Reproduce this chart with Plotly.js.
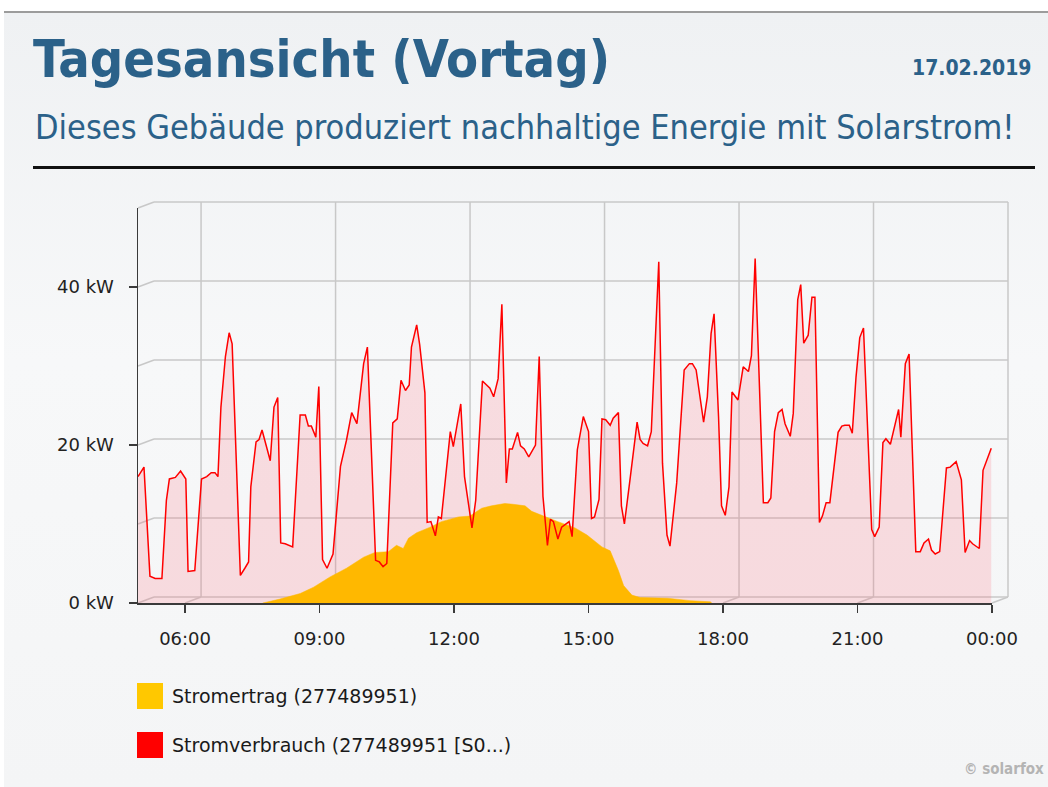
<!DOCTYPE html>
<html><head><meta charset="utf-8">
<script src="https://cdn.plot.ly/plotly-3.0.1.min.js"></script>
<style>
html,body{margin:0;padding:0;width:1048px;height:787px;overflow:hidden;background:#fff;}
#bg{position:absolute;left:4px;top:11px;right:0;bottom:0;border-top:2px solid #9c9c9c;background:linear-gradient(180deg,#eff1f3 0%,#f7f8f9 45%,#f4f5f6 100%);}
#chart{position:absolute;left:0;top:0;width:1048px;height:787px;}
</style></head><body><div id="bg"></div><div id="chart"></div>
<script>
// ---- data ----
const verbrauchZeit = ["04:57","05:05","05:13","05:20","05:29","05:35","05:39","05:47","05:54","06:01","06:04","06:13",
"06:22","06:29","06:35","06:40","06:44","06:48","06:54","06:59","07:03",
"07:14","07:20","07:25","07:28","07:35","07:39","07:43","07:54","07:59","08:04",
"08:08","08:14","08:24","08:34","08:41","08:45","08:49","08:55","08:59",
"09:04","09:10","09:18","09:28","09:36","09:43","09:50","09:59","10:04",
"10:15","10:20","10:25","10:30","10:38","10:44","10:49","10:55","11:00","11:03","11:10","11:14","11:21",
"11:24","11:29","11:35","11:39","11:43","11:55","11:59",
"12:09","12:14","12:19","12:24","12:29","12:38","12:48","12:53","12:59","13:04",
"13:10","13:14","13:18","13:25","13:29","13:34","13:40","13:49","13:54","13:59",
"14:05","14:09","14:13","14:19","14:24","14:34","14:38",
"14:45","14:53","15:00","15:04","15:08","15:14","15:18","15:23","15:29","15:33","15:40",
"15:44","15:48","15:56","16:05","16:09","16:13","16:19","16:24","16:34","16:39","16:45","16:49","16:58",
"17:08","17:15","17:19","17:24","17:34","17:39","17:44","17:48",
"17:54","17:58","18:03","18:08","18:12","18:20","18:27","18:34","18:38","18:43","18:47",
"18:54","19:00","19:04","19:09","19:14","19:19","19:23","19:30","19:34",
"19:40","19:44","19:48","19:54","19:59","20:03",
"20:09","20:13","20:18","20:23","20:34","20:39","20:43","20:49","20:53","20:58","21:03","21:08",
"21:19","21:23","21:29","21:34","21:38","21:44","21:55","21:58","22:04","22:09",
"22:18","22:24","22:29","22:35","22:39","22:44","22:50","22:59","23:04","23:12","23:19",
"23:24","23:30","23:34","23:43","23:48","23:59"];
const verbrauchKW = [16.0,17.2,3.4,3.1,3.1,13.0,15.7,15.9,16.7,15.7,4.0,4.1,
15.7,16.0,16.5,16.5,16.0,24.8,31.2,34.2,32.8,
3.5,4.4,5.2,14.7,20.4,20.7,21.9,18.0,24.8,26.0,
7.6,7.5,7.1,23.8,23.8,22.4,22.4,21.0,27.4,
5.5,4.4,6.2,17.3,20.6,24.1,22.7,30.3,32.4,
5.4,5.2,4.6,5.0,22.8,23.3,28.2,26.9,27.6,32.4,35.2,32.7,26.6,
10.2,10.3,8.5,10.9,10.7,21.7,19.8,
25.2,16.0,13.0,9.5,13.0,28.1,27.2,26.1,28.4,37.8,
15.2,19.5,19.5,21.6,19.9,19.5,18.5,20.0,31.2,13.5,
7.3,10.6,10.3,8.1,9.6,10.3,8.4,
19.4,23.6,21.7,10.7,10.9,13.1,23.3,23.2,22.5,23.4,24.1,
12.3,10.0,16.0,22.9,20.7,20.2,19.9,21.7,43.2,17.7,8.6,7.2,15.2,
29.5,30.3,30.3,29.5,22.9,26.1,34.1,36.6,
23.6,12.3,11.1,14.7,26.7,25.7,29.9,29.3,31.3,43.6,32.9,
12.7,12.7,13.3,21.7,24.1,24.5,22.7,21.1,24.0,
38.4,40.3,32.9,33.9,38.7,38.7,
10.2,11.0,12.7,12.7,21.6,22.4,22.5,22.5,21.5,28.6,33.6,34.8,
9.3,8.4,9.6,20.3,20.8,20.1,24.5,21.0,30.3,31.5,
6.5,6.5,7.6,8.1,6.7,6.2,6.5,17.1,17.2,17.9,15.6,
6.4,7.9,7.5,6.9,16.8,19.6];

const ertragZeit = ["07:44","08:07","08:34","08:52","09:14","09:36","09:59","10:14","10:32","10:43","10:52","10:59","11:10","11:28","11:43","12:06","12:21","12:37","12:50","13:08","13:19","13:35","13:44","13:57","14:19","14:42","14:58","15:18","15:29","15:40","15:47","15:58","16:09","16:46","17:16","17:43","17:45"];
const ertragKW = [0,0.5,1.2,2.0,3.3,4.4,5.8,6.4,6.5,7.3,6.9,8.2,8.9,9.6,10.3,10.9,11.0,12.0,12.3,12.6,12.5,12.3,11.6,11.1,10.3,9.5,8.6,7.1,6.6,4.1,2.2,1.0,0.7,0.6,0.3,0.15,0];

const tickZeit = ["06:00","09:00","12:00","15:00","18:00","21:00","24:00"];
const tickText = ["06:00","09:00","12:00","15:00","18:00","21:00","00:00"];
const yTickVals = [0,20,40];
const yTickText = ["0 kW","20 kW","40 kW"];
const yGridVals = [0,10,20,30,40,50];
const seriesNames = ["Stromertrag (277489951)","Stromverbrauch (277489951 [S0...)"];
const rangeStart = "04:57", rangeEnd = "24:00";
const titleText = "Tagesansicht (Vortag)";
const subtitleText = "Dieses Gebäude produziert nachhaltige Energie mit Solarstrom!";
const dateText = "17.02.2019";

// ---- helpers ----
function ts(hm){ return hm==="24:00" ? "2019-02-18 00:00" : "2019-02-17 " + hm; }
function mins(hm){ const p = hm.split(":"); return (+p[0])*60 + (+p[1]); }

// geometry (pixels)
const L=138, R=1008, T=202, B=603, PW=R-L, PH=B-T;
const DX=16, DY=6;
const fw=(PW-DX)/PW, fh=(PH-DY)/PH, dx=DX/PW, dy=DY/PH;
function px(X){ return (X-L)/PW; }
function py(Y){ return (B-Y)/PH; }

const COND = "DejaVu Sans Condensed, DejaVu Sans, sans-serif";
const BLUE = "#2b6189";
const GRID = "#c8c8c8";
const YMAX = 50;

const traces = [
  {x: verbrauchZeit.map(ts), y: verbrauchKW, type:"scatter", mode:"lines", fill:"tozeroy",
   fillcolor:"rgba(255,110,125,0.2)", line:{width:0, color:"rgba(0,0,0,0)"}, name:seriesNames[1], showlegend:false, hoverinfo:"skip"},
  {x: ertragZeit.map(ts), y: ertragKW, type:"scatter", mode:"lines", fill:"tozeroy",
   fillcolor:"#ffb800", line:{width:0.5, color:"#ffb800"}, name:seriesNames[0], showlegend:false},
  {x: verbrauchZeit.map(ts), y: verbrauchKW, type:"scatter", mode:"lines",
   line:{width:1.5, color:"#ff0000"}, name:seriesNames[1], showlegend:false}
];

// back-plane grid and 3D-like connectors, derived from the tick arrays
const shapes = [];
const t0 = mins(rangeStart), t1 = mins(rangeEnd);
const gl = {color:GRID, width:1.5};
yGridVals.forEach(v => {
  const yf = v/YMAX*fh;
  shapes.push({type:"line", layer:"below", xref:"paper", yref:"paper", x0:dx, y0:yf+dy, x1:1, y1:yf+dy, line:gl});
  shapes.push({type:"line", layer:"below", xref:"paper", yref:"paper", x0:0, y0:yf, x1:dx, y1:yf+dy, line:gl});
});
tickZeit.forEach(hm => {
  const f = (mins(hm)-t0)/(t1-t0)*fw;
  shapes.push({type:"line", layer:"below", xref:"paper", yref:"paper", x0:f+dx, y0:dy, x1:f+dx, y1:1, line:gl});
  shapes.push({type:"line", layer:"below", xref:"paper", yref:"paper", x0:f, y0:0, x1:f+dx, y1:dy, line:gl});
});
// header rule
shapes.push({type:"line", xref:"paper", yref:"paper", x0:px(33), x1:px(1035), y0:py(167.5), y1:py(167.5), line:{color:"#111", width:3}});
// legend swatches
shapes.push({type:"rect", xref:"paper", yref:"paper", x0:px(137), x1:px(163), y0:py(683), y1:py(709), fillcolor:"#ffc800", line:{width:0}});
shapes.push({type:"rect", xref:"paper", yref:"paper", x0:px(137), x1:px(163), y0:py(732), y1:py(758), fillcolor:"#ff0000", line:{width:0}});

const annotations = [
  {text: subtitleText, xref:"paper", yref:"paper", x:px(33), y:py(127), xanchor:"left", yanchor:"middle", showarrow:false,
   font:{family:COND, size:34, color:BLUE}},
  {text: dateText, xref:"paper", yref:"paper", x:px(1034), y:py(68), xanchor:"right", yanchor:"middle", showarrow:false,
   font:{family:COND, size:21, color:BLUE, weight:"bold"}},
  {text: seriesNames[0], xref:"paper", yref:"paper", x:px(170), y:py(696), xanchor:"left", yanchor:"middle", showarrow:false,
   font:{family:"DejaVu Sans", size:19, color:"#1a1a1a"}},
  {text: seriesNames[1], xref:"paper", yref:"paper", x:px(170), y:py(745), xanchor:"left", yanchor:"middle", showarrow:false,
   font:{family:"DejaVu Sans", size:19, color:"#1a1a1a"}},
  {text: "© solarfox", xref:"paper", yref:"paper", x:px(1046), y:py(769), xanchor:"right", yanchor:"middle", showarrow:false,
   font:{family:COND, size:15, color:"#b4b4b4", weight:"bold"}}
];

const layout = {
  width:1048, height:787,
  margin:{l:L, r:1048-R, t:T, b:787-B, pad:0},
  paper_bgcolor:"rgba(0,0,0,0)", plot_bgcolor:"rgba(0,0,0,0)",
  showlegend:false, hovermode:false,
  title:{text:titleText, xref:"container", yref:"container", x:33/1048, xanchor:"left", y:1-59/787, yanchor:"middle",
         font:{family:COND, size:52, color:BLUE, weight:"bold"}},
  xaxis:{type:"date", domain:[0,fw], range:[ts(rangeStart), ts(rangeEnd)], tickvals:tickZeit.map(ts), ticktext:tickText,
         ticks:"outside", ticklen:8, tickwidth:1.5, tickcolor:"#3a3a3a", showline:true, linecolor:"#3a3a3a", linewidth:1.5,
         showgrid:false, zeroline:false, ticklabelstandoff:11, tickfont:{family:"DejaVu Sans", size:18, color:"#222"}, anchor:"y"},
  yaxis:{domain:[0,fh], range:[0,YMAX], tickvals:yTickVals, ticktext:yTickText, ticks:"outside", ticklen:8, tickwidth:1.5,
         tickcolor:"#3a3a3a", showline:true, linecolor:"#3a3a3a", linewidth:1.5, showgrid:false, zeroline:false,
         ticklabelstandoff:11, tickfont:{family:"DejaVu Sans", size:18, color:"#222"}, anchor:"x"},
  shapes: shapes,
  annotations: annotations
};

Plotly.newPlot("chart", traces, layout, {staticPlot:true, displayModeBar:false});
</script></body></html>
